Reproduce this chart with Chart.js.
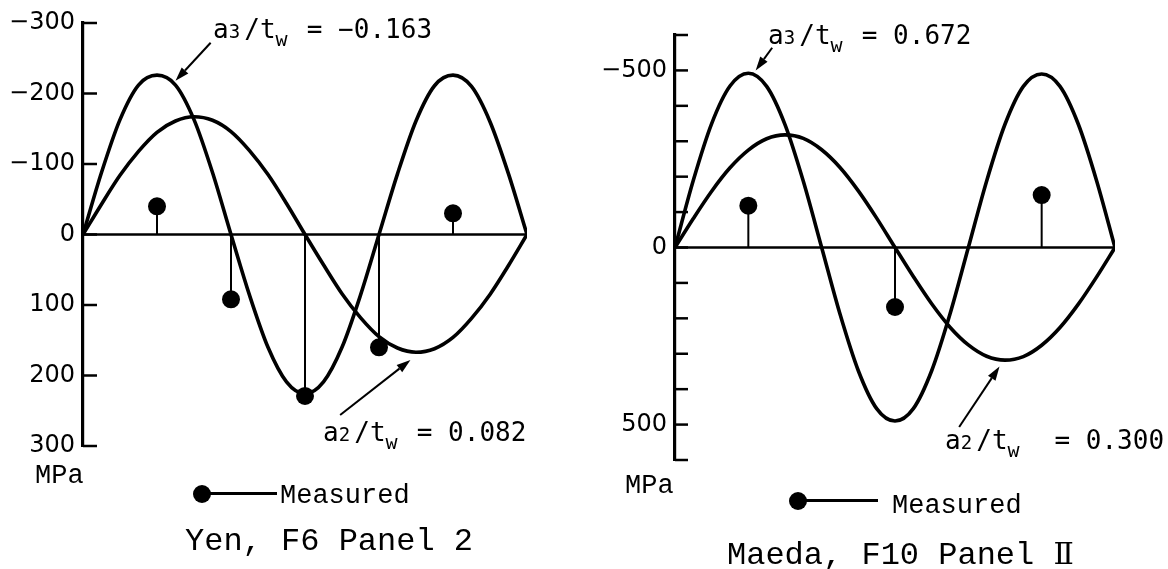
<!DOCTYPE html>
<html>
<head>
<meta charset="utf-8">
<title>Web panel stress: Yen F6 Panel 2 / Maeda F10 Panel II</title>
<script src="https://cdn.jsdelivr.net/npm/chart.js@4.4.1/dist/chart.umd.min.js"></script>
<style>
  html, body { margin: 0; padding: 0; background: #fff; }
  #page { position: relative; width: 1168px; height: 569px; overflow: hidden; background: #fff; }
  #page canvas { position: absolute; top: 0; }
  .lbl { position: absolute; white-space: pre; color: #000; line-height: 1; }
  .ann { font-family: "DejaVu Sans Mono", monospace; font-size: 26px; }
  .ann .s { display: inline-block; width: 15.6px; font-size: 19px; }
  .ann .w { display: inline-block; width: 15.6px; font-size: 20px; position: relative; top: 8px; }
  .mono { font-family: "Liberation Mono", "Courier New", monospace; }
  .unit { font-size: 27px; }
  .meas { font-size: 27px; }
  .title { font-size: 32px; }
  .roman { font-family: "DejaVu Serif", "Noto Sans CJK JP", serif; font-size: 30px; }
  .dot { position: absolute; width: 18px; height: 18px; border-radius: 50%; background: #000; }
  .bar { position: absolute; height: 3px; background: #000; }
</style>
</head>
<body>
<div id="page">
  <canvas id="yen" width="584" height="569" style="left:0px;width:584px;height:569px"></canvas>
  <canvas id="maeda" width="584" height="569" style="left:584px;width:584px;height:569px"></canvas>

  <div class="lbl ann" style="left:213px;top:16px">a<span class="s">3</span>/t<span class="w">w</span> = −0.163</div>
  <div class="lbl ann" style="left:323px;top:419px">a<span class="s">2</span>/t<span class="w">w</span> = 0.082</div>
  <div class="lbl ann" style="left:768px;top:22px">a<span class="s">3</span>/t<span class="w">w</span> = 0.672</div>
  <div class="lbl ann" style="left:945px;top:427px">a<span class="s">2</span>/t<span class="w">w</span>  = 0.300</div>

  <div class="lbl mono unit" style="left:35px;top:463px">MPa</div>
  <div class="lbl mono unit" style="left:625px;top:473px">MPa</div>

  <div class="dot" style="left:193px;top:485px"></div>
  <div class="bar" style="left:202px;top:492px;width:75px"></div>
  <div class="lbl mono meas" style="left:280px;top:483px">Measured</div>
  <div class="dot" style="left:789px;top:492px"></div>
  <div class="bar" style="left:798px;top:499px;width:80px"></div>
  <div class="lbl mono meas" style="left:892px;top:493px">Measured</div>

  <div class="lbl mono title" style="left:185px;top:526px">Yen, F6 Panel 2</div>
  <div class="lbl mono title" style="left:727px;top:539px">Maeda, F10 Panel <span class="roman">Ⅱ</span></div>
</div>

<script>
// Stations along the panel width (0 = left edge, 24 = right edge)
const stations = [0, 1, 2, 3, 4, 5, 6, 7, 8, 9, 10, 11, 12, 13, 14, 15, 16, 17, 18, 19, 20, 21, 22, 23, 24];

// Yen, F6 Panel 2 — stress in MPa (negative = compression, plotted upward)
const yenA2 = [0, -43, -84, -118, -145, -161, -167, -162, -146, -119, -85, -44, 0, 43, 84, 118, 145, 161, 167, 162, 146, 119, 85, 44, 0];
const yenA3 = [0, -88, -163, -212, -226, -212, -163, -88, 0, 86, 160, 209, 226, 209, 160, 86, 0, -86, -161, -211, -226, -210, -160, -86, 0];
const yenMeasuredAt = [4, 8, 12, 16, 20];
const yenMeasured = [-40, 92, 229, 160, -30];
const yenTickLabels = [-300, -200, -100, 0, 100, 200, 300];

// Maeda, F10 Panel II — stress in MPa
const maedaA2 = [0, -82, -159, -225, -275, -307, -318, -308, -276, -226, -160, -83, 0, 82, 159, 225, 275, 307, 318, 308, 276, 226, 160, 83, 0];
const maedaA3 = [0, -190, -350, -456, -492, -455, -347, -187, 0, 188, 348, 455, 490, 455, 348, 188, 0, -188, -348, -455, -490, -455, -348, -188, 0];
const maedaMeasuredAt = [4, 12, 20];
const maedaMeasured = [-118, 168, -148];
const maedaTickLabels = [-500, 0, 500];

const pts = (xs, ys) => xs.map((x, i) => ({ x: x, y: ys[i] }));
const fmt = v => (v < 0 ? '\u2212' + Math.abs(v) : String(v));

// Zero line, stems of the measured values, arrows to the curves and inward tick marks
const panelDecor = {
  id: 'panelDecor',
  beforeDatasetsDraw(chart) {
    const { ctx, chartArea: a, scales: { x, y } } = chart;
    const y0 = y.getPixelForValue(0);
    ctx.save();
    ctx.strokeStyle = '#000';
    ctx.lineWidth = 2.4;
    ctx.beginPath();
    ctx.moveTo(a.left, y0);
    ctx.lineTo(x.getPixelForValue(x.max), y0);
    ctx.stroke();
    ctx.lineWidth = 2;
    chart.data.datasets[2].data.forEach(p => {
      const px = x.getPixelForValue(p.x);
      ctx.beginPath();
      ctx.moveTo(px, y0);
      ctx.lineTo(px, y.getPixelForValue(p.y));
      ctx.stroke();
    });
    ctx.restore();
  },
  afterDatasetsDraw(chart, args, opts) {
    const { ctx, scales: { x, y } } = chart;
    ctx.save();
    ctx.strokeStyle = '#000';
    ctx.fillStyle = '#000';
    ctx.lineWidth = 2;
    (opts.arrows || []).forEach(ar => {
      const x1 = x.getPixelForValue(ar.from[0]), y1 = y.getPixelForValue(ar.from[1]);
      const x2 = x.getPixelForValue(ar.to[0]), y2 = y.getPixelForValue(ar.to[1]);
      const ang = Math.atan2(y2 - y1, x2 - x1);
      const len = 14, half = 4.5;
      const bx = x2 - len * Math.cos(ang), by = y2 - len * Math.sin(ang);
      ctx.beginPath();
      ctx.moveTo(x1, y1);
      ctx.lineTo(bx, by);
      ctx.stroke();
      ctx.beginPath();
      ctx.moveTo(x2, y2);
      ctx.lineTo(bx + half * Math.sin(ang), by - half * Math.cos(ang));
      ctx.lineTo(bx - half * Math.sin(ang), by + half * Math.cos(ang));
      ctx.closePath();
      ctx.fill();
    });
    ctx.restore();
  },
  afterDraw(chart, args, opts) {
    const { ctx, chartArea: a, scales: { y } } = chart;
    ctx.save();
    ctx.strokeStyle = '#000';
    ctx.lineWidth = 2.5;
    y.ticks.forEach(t => {
      const py = y.getPixelForValue(t.value);
      ctx.beginPath();
      ctx.moveTo(a.left, py);
      ctx.lineTo(a.left + opts.tickLen, py);
      ctx.stroke();
    });
    ctx.restore();
  }
};

function makePanel(id, cfg) {
  const curve = data => ({
    data: data,
    showLine: true,
    borderColor: '#000',
    borderWidth: 3.6,
    pointRadius: 0,
    cubicInterpolationMode: 'monotone',
    fill: false
  });
  return new Chart(document.getElementById(id), {
    type: 'scatter',
    data: {
      datasets: [
        curve(pts(stations, cfg.a2)),
        curve(pts(stations, cfg.a3)),
        {
          data: pts(cfg.measuredAt, cfg.measured),
          showLine: false,
          pointRadius: 9,
          pointHoverRadius: 9,
          pointBackgroundColor: '#000',
          pointBorderWidth: 0
        }
      ]
    },
    options: {
      responsive: false,
      animation: false,
      events: [],
      layout: { padding: cfg.padding },
      plugins: {
        legend: { display: false },
        tooltip: { enabled: false },
        panelDecor: { arrows: cfg.arrows, tickLen: cfg.tickLen }
      },
      scales: {
        x: { type: 'linear', min: 0, max: 24, display: false },
        y: {
          type: 'linear',
          reverse: true,
          min: cfg.min,
          max: cfg.max,
          afterFit: s => { s.width = cfg.axisWidth; },
          grid: { display: false, drawTicks: false },
          border: { display: true, color: '#000', width: 3.2 },
          ticks: {
            stepSize: 100,
            autoSkip: false,
            padding: 8,
            color: '#000',
            font: { family: 'DejaVu Sans', size: 24 },
            callback: v => (cfg.tickLabels.includes(v) ? fmt(v) : '')
          }
        }
      }
    },
    plugins: [panelDecor]
  });
}

makePanel('yen', {
  a2: yenA2, a3: yenA3,
  measuredAt: yenMeasuredAt, measured: yenMeasured,
  tickLabels: yenTickLabels,
  min: -300, max: 300,
  axisWidth: 83,
  padding: { left: 0, right: 57, top: 23, bottom: 123 },
  tickLen: 14,
  arrows: [
    { from: [6.9, -272], to: [5.0, -218] },
    { from: [13.9, 256], to: [17.7, 178] }
  ]
});

makePanel('maeda', {
  a2: maedaA2, a3: maedaA3,
  measuredAt: maedaMeasuredAt, measured: maedaMeasured,
  tickLabels: maedaTickLabels,
  min: -600, max: 600,
  axisWidth: 91,
  padding: { left: 0, right: 53, top: 35, bottom: 109 },
  tickLen: 13,
  arrows: [
    { from: [5.3, -564], to: [4.4, -500] },
    { from: [15.5, 507], to: [17.7, 336] }
  ]
});
</script>
</body>
</html>
